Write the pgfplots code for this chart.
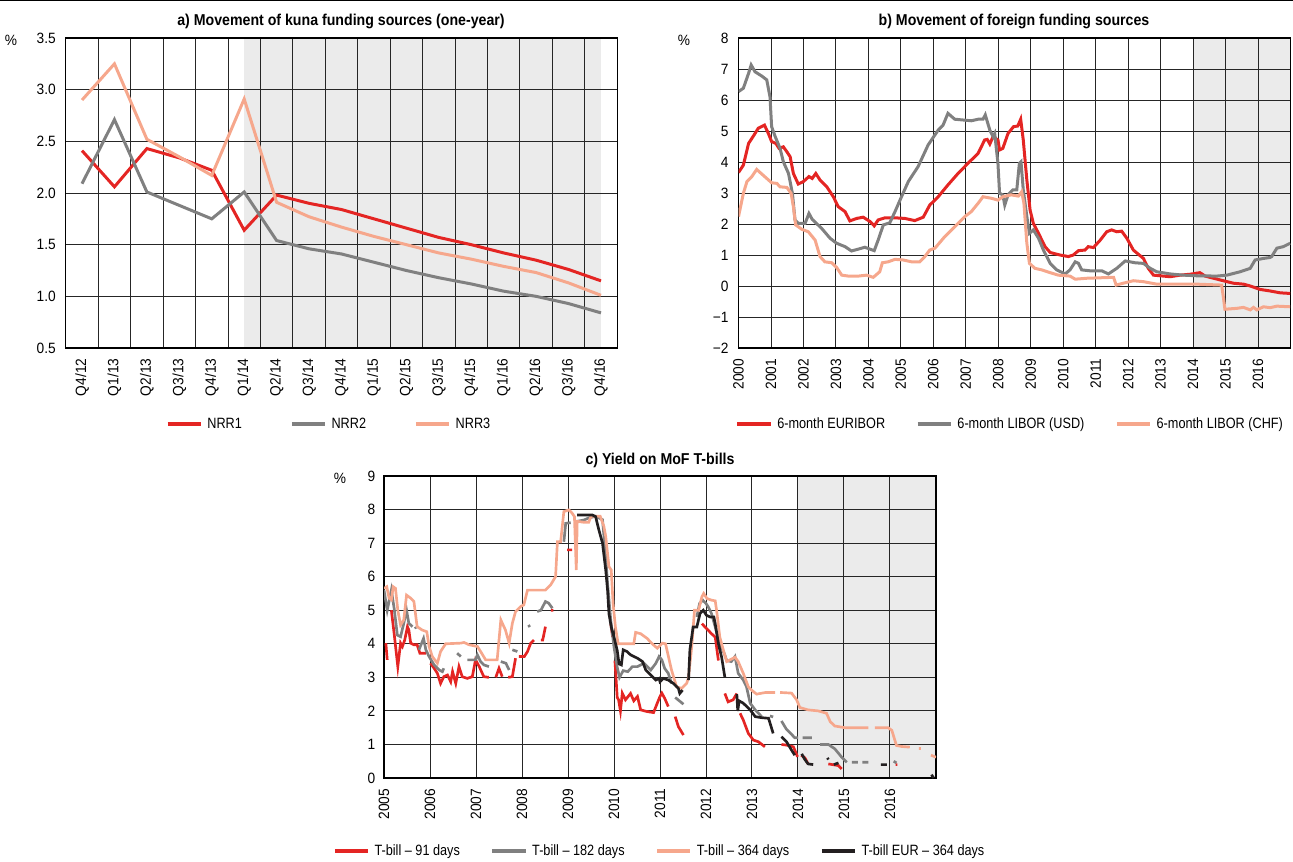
\documentclass[border=0pt]{standalone}
\usepackage{fontspec}
\setmainfont{Liberation Sans}[FakeStretch=0.85]
\newfontfamily\tickfam{Liberation Sans}[FakeStretch=0.92]
\newfontfamily\titlefam{Liberation Sans}[FakeStretch=0.9]
\usepackage{pgfplots}
\pgfplotsset{compat=1.18}

\definecolor{nred}{RGB}{228,37,35}
\definecolor{ngray}{RGB}{128,128,128}
\definecolor{nsalmon}{RGB}{246,167,140}
\definecolor{nblack}{RGB}{35,31,32}
\definecolor{nshade}{RGB}{235,235,235}

\newcommand\tfont{\fontsize{11.2}{13}\selectfont}
\newcommand\kfont{\tickfam\fontsize{11.2}{13}\selectfont}
\newcommand\hfont{\titlefam\fontsize{11.8}{14}\selectfont\bfseries}

% common look of the three panels
\pgfplotsset{
  hnb/.style={
    scale only axis, set layers, anchor=south west,
    axis line style={black, line width=0.8pt},
    major tick length=0pt, minor tick length=0pt,
    grid style={black!85, line width=0.7pt},
    tick label style={font=\kfont},
    yticklabel style={xshift=-4pt},
    xticklabel style={yshift=-4.5pt, rotate=90, anchor=east},
    legend style={draw=none, fill=none, font=\tfont, anchor=center,
      legend columns=-1, nodes={inner sep=2pt},
      /tikz/every odd column/.append style={column sep=1.5pt}},
    legend image code/.code={\draw[##1, line width=2.7pt] (0pt,0pt) -- (25pt,0pt);},
  },
}

\begin{document}
\begin{tikzpicture}

% ---------------- a) kuna funding sources
\begin{axis}[hnb, at={(49.35pt,-261pt)}, width=413.55pt, height=232.5pt,
  xmin=-0.5, xmax=16.5, ymin=0.5, ymax=3.5,
  xtick={0,...,16},
  xticklabels={Q4/12,Q1/13,Q2/13,Q3/13,Q4/13,Q1/14,Q2/14,Q3/14,Q4/14,Q1/15,Q2/15,Q3/15,Q4/15,Q1/16,Q2/16,Q3/16,Q4/16},
  minor xtick={0.5,1.5,...,15.5}, xminorgrids, ymajorgrids,
  ytick={0.5,1,1.5,2,2.5,3,3.5},
  yticklabels={0.5,1.0,1.5,2.0,2.5,3.0,3.5},
  legend style={at={(0.478,-0.245)}, /tikz/every even column/.append style={column sep=34pt}},
]
\addplot[fill=nshade, draw=none, forget plot, on layer=axis background]
  coordinates {(5,0.5) (5,3.5) (16,3.5) (16,0.5)};
\addplot[nred, line width=2.25pt] coordinates {
  (0,2.41) (1,2.06) (2,2.43) (3,2.34) (4,2.22) (5,1.64) (6,1.98) (7,1.90) (8,1.84)
  (9,1.75) (10,1.66) (11,1.57) (12,1.50) (13,1.42) (14,1.35) (15,1.26) (16,1.15)};
\addlegendentry{NRR1}
\addplot[ngray, line width=2.25pt] coordinates {
  (0,2.09) (1,2.71) (2,2.01) (3,1.88) (4,1.75) (5,2.01) (6,1.54) (7,1.46) (8,1.41)
  (9,1.33) (10,1.25) (11,1.18) (12,1.12) (13,1.05) (14,1.00) (15,0.93) (16,0.84)};
\addlegendentry{NRR2}
\addplot[nsalmon, line width=2.25pt] coordinates {
  (0,2.90) (1,3.25) (2,2.52) (3,2.35) (4,2.17) (5,2.91) (6,1.91) (7,1.77) (8,1.67)
  (9,1.58) (10,1.50) (11,1.42) (12,1.36) (13,1.29) (14,1.23) (15,1.13) (16,1.01)};
\addlegendentry{NRR3}
\end{axis}

% ---------------- b) foreign funding sources
\begin{axis}[hnb, at={(553.875pt,-261pt)}, width=414pt, height=232.5pt,
  xmin=2000, xmax=2017, ymin=-2, ymax=8,
  xtick={2000,...,2016},
  xticklabels={2000,2001,2002,2003,2004,2005,2006,2007,2008,2009,2010,2011,2012,2013,2014,2015,2016},
  ytick={-2,...,8},
  yticklabels={−2,−1,0,1,2,3,4,5,6,7,8},
  grid=major,
  legend style={at={(0.493,-0.245)}, /tikz/every even column/.append style={column sep=21pt}},
]
\addplot[fill=nshade, draw=none, forget plot, on layer=axis background]
  coordinates {(2014,-2) (2014,8) (2017,8) (2017,-2)};
\addplot[nred, line width=2.25pt] coordinates {
  (2000.00,3.66) (2000.15,3.90) (2000.31,4.60) (2000.46,4.84) (2000.61,5.09) (2000.80,5.19)
  (2000.92,4.92) (2001.02,4.66) (2001.15,4.60) (2001.25,4.44) (2001.38,4.49) (2001.49,4.33)
  (2001.59,4.17) (2001.69,3.63) (2001.84,3.29) (2002.00,3.37) (2002.17,3.53) (2002.27,3.47)
  (2002.38,3.63) (2002.51,3.42) (2002.72,3.20) (2002.92,2.88) (2003.07,2.56) (2003.28,2.40)
  (2003.43,2.10) (2003.64,2.18) (2003.84,2.22) (2004.05,2.08) (2004.18,1.94) (2004.30,2.13)
  (2004.51,2.20) (2004.82,2.20) (2005.12,2.18) (2005.43,2.11) (2005.69,2.22) (2005.89,2.61)
  (2006.15,2.88) (2006.45,3.26) (2006.76,3.63) (2007.07,3.96) (2007.38,4.28) (2007.58,4.71)
  (2007.66,4.73) (2007.74,4.58) (2007.84,4.82) (2007.99,4.71) (2008.04,4.39) (2008.14,4.44)
  (2008.30,4.92) (2008.47,5.14) (2008.60,5.16) (2008.69,5.38) (2008.77,4.71) (2008.88,3.42)
  (2008.98,2.45) (2009.08,2.02) (2009.24,1.70) (2009.44,1.27) (2009.60,1.08) (2009.90,1.00)
  (2010.16,0.95) (2010.31,1.00) (2010.47,1.14) (2010.67,1.16) (2010.77,1.27) (2010.93,1.24)
  (2011.14,1.48) (2011.34,1.75) (2011.49,1.81) (2011.65,1.75) (2011.80,1.77) (2011.96,1.54)
  (2012.16,1.16) (2012.32,1.02) (2012.47,0.89) (2012.62,0.57) (2012.78,0.35) (2012.98,0.33)
  (2013.29,0.30) (2013.60,0.35) (2013.91,0.38) (2014.21,0.43) (2014.37,0.32) (2014.63,0.25)
  (2014.93,0.17) (2015.24,0.09) (2015.55,0.06) (2015.76,0.00) (2016.06,-0.11) (2016.37,-0.16)
  (2016.68,-0.22) (2016.99,-0.24)};
\addlegendentry{6-month EURIBOR}
\addplot[ngray, line width=2.25pt] coordinates {
  (2000.00,6.27) (2000.15,6.38) (2000.31,6.86) (2000.39,7.13) (2000.51,6.91) (2000.72,6.77)
  (2000.87,6.65) (2000.97,6.10) (2001.02,5.14) (2001.13,4.82) (2001.28,4.44) (2001.38,4.01)
  (2001.54,3.63) (2001.66,2.99) (2001.74,2.13) (2001.84,2.02) (2002.05,2.02) (2002.17,2.34)
  (2002.27,2.15) (2002.56,1.86) (2002.82,1.54) (2003.02,1.38) (2003.28,1.27) (2003.48,1.13)
  (2003.69,1.19) (2003.89,1.25) (2004.18,1.14) (2004.30,1.48) (2004.46,1.97) (2004.66,2.04)
  (2004.82,2.40) (2005.02,2.88) (2005.23,3.37) (2005.53,3.85) (2005.84,4.55) (2006.15,5.03)
  (2006.30,5.19) (2006.45,5.57) (2006.66,5.38) (2006.97,5.35) (2007.17,5.33) (2007.38,5.38)
  (2007.53,5.38) (2007.60,5.52) (2007.74,5.03) (2007.84,4.82) (2007.89,4.92) (2007.99,3.96)
  (2008.04,2.99) (2008.14,2.94) (2008.20,2.61) (2008.30,2.94) (2008.45,3.10) (2008.57,3.10)
  (2008.65,3.96) (2008.70,4.01) (2008.77,3.10) (2008.88,2.24) (2008.96,1.70) (2009.08,1.81)
  (2009.24,1.54) (2009.39,1.16) (2009.60,0.73) (2009.80,0.52) (2010.06,0.39) (2010.21,0.52)
  (2010.37,0.78) (2010.47,0.73) (2010.57,0.52) (2010.83,0.49) (2011.19,0.49) (2011.39,0.39)
  (2011.65,0.57) (2011.91,0.81) (2012.21,0.75) (2012.47,0.73) (2012.68,0.57) (2012.88,0.46)
  (2013.29,0.39) (2013.70,0.35) (2014.11,0.33) (2014.73,0.32) (2015.04,0.35) (2015.45,0.46)
  (2015.76,0.57) (2015.91,0.84) (2016.17,0.89) (2016.37,0.92) (2016.42,0.95) (2016.58,1.22)
  (2016.78,1.27) (2016.99,1.38)};
\addlegendentry{6-month LIBOR (USD)}
\addplot[nsalmon, line width=2.25pt] coordinates {
  (2000.00,2.24) (2000.15,2.99) (2000.26,3.37) (2000.41,3.53) (2000.56,3.76) (2000.72,3.61)
  (2000.87,3.47) (2001.02,3.33) (2001.18,3.31) (2001.28,3.20) (2001.49,3.18) (2001.62,2.99)
  (2001.69,2.56) (2001.76,1.97) (2001.95,1.83) (2002.15,1.75) (2002.36,1.48) (2002.51,0.95)
  (2002.66,0.78) (2002.87,0.75) (2003.02,0.60) (2003.18,0.35) (2003.38,0.32) (2003.69,0.32)
  (2003.94,0.35) (2004.15,0.28) (2004.35,0.46) (2004.43,0.75) (2004.61,0.78) (2004.82,0.86)
  (2005.07,0.84) (2005.33,0.78) (2005.58,0.78) (2005.74,0.95) (2005.89,1.16) (2006.05,1.22)
  (2006.35,1.59) (2006.66,1.91) (2006.97,2.24) (2007.17,2.40) (2007.38,2.67) (2007.53,2.88)
  (2007.79,2.83) (2007.99,2.77) (2008.14,2.88) (2008.40,2.94) (2008.62,2.90) (2008.72,3.04)
  (2008.79,2.67) (2008.88,1.38) (2008.96,0.73) (2009.13,0.57) (2009.34,0.52) (2009.60,0.43)
  (2009.85,0.35) (2010.21,0.32) (2010.37,0.22) (2010.72,0.25) (2011.55,0.28) (2011.63,0.03)
  (2011.85,0.09) (2012.16,0.17) (2012.47,0.14) (2012.88,0.06) (2013.50,0.06) (2014.11,0.06)
  (2014.88,0.03) (2014.93,-0.34) (2014.98,-0.75) (2015.35,-0.72) (2015.55,-0.69) (2015.76,-0.77)
  (2015.86,-0.69) (2015.96,-0.77) (2016.17,-0.67) (2016.37,-0.70) (2016.58,-0.65) (2016.99,-0.67)};
\addlegendentry{6-month LIBOR (CHF)}
\end{axis}

% ---------------- c) MoF T-bills
\begin{axis}[hnb, at={(288pt,-583.5pt)}, width=414pt, height=226.5pt,
  xmin=2005, xmax=2017, ymin=0, ymax=9,
  xtick={2005,...,2016},
  xticklabels={2005,2006,2007,2008,2009,2010,2011,2012,2013,2014,2015,2016},
  ytick={0,...,9},
  yticklabels={0,1,2,3,4,5,6,7,8,9},
  yticklabel style={xshift=1pt},
  grid=major, unbounded coords=jump,
  legend style={at={(0.5,-0.242)}, /tikz/every even column/.append style={column sep=21pt}},
]
\addplot[fill=nshade, draw=none, forget plot, on layer=axis background]
  coordinates {(2014,0) (2014,9) (2017,9) (2017,0)};
\addplot[nred, line width=2pt] coordinates {
  (2005.04,4.02) (2005.07,3.52) (2005.1,nan)
  (2005.16,5.00) (2005.22,4.31) (2005.30,3.32) (2005.36,4.02) (2005.40,3.92) (2005.45,4.11)
  (2005.51,4.51) (2005.54,4.41) (2005.58,4.02) (2005.65,3.97) (2005.72,3.97) (2005.78,3.72)
  (2005.91,3.72) (2005.95,nan)
  (2006.01,3.42) (2006.09,3.27) (2006.16,3.12) (2006.23,2.82) (2006.30,3.02) (2006.38,3.07)
  (2006.45,2.87) (2006.49,3.17) (2006.56,2.82) (2006.63,3.32) (2006.70,3.02) (2006.81,2.97)
  (2006.92,3.02) (2006.99,3.52) (2007.07,3.32) (2007.17,3.02) (2007.28,3.00) (2007.35,nan)
  (2007.43,3.00) (2007.50,3.27) (2007.57,3.02) (2007.63,nan)
  (2007.70,3.00) (2007.79,3.02) (2007.86,3.57) (2007.9,nan)
  (2007.93,3.62) (2008.05,3.62) (2008.12,3.77) (2008.19,4.02) (2008.26,4.11) (2008.33,nan)
  (2008.41,4.11) (2008.45,4.11) (2008.51,4.51) (2008.57,nan)
  (2008.63,5.00) (2008.68,5.00) (2008.8,nan)
  (2008.98,6.80) (2009.09,6.80) (2009.5,nan)
  (2009.93,4.60) (2009.97,4.20) (2010.0,nan)
  (2010.02,3.50) (2010.07,2.40) (2010.10,2.33) (2010.14,2.00) (2010.18,2.53) (2010.25,2.33)
  (2010.36,2.52) (2010.43,2.30) (2010.51,2.43) (2010.58,2.03) (2010.72,1.98) (2010.86,1.95)
  (2010.94,2.23) (2011.00,2.43) (2011.04,2.53) (2011.10,2.38) (2011.18,2.13) (2011.25,nan)
  (2011.33,1.83) (2011.40,1.53) (2011.51,1.28) (2011.7,nan)
  (2011.91,4.60) (2011.98,4.50) (2012.05,4.40) (2012.12,4.30) (2012.20,4.20) (2012.23,3.90)
  (2012.27,3.50) (2012.33,nan)
  (2012.41,2.52) (2012.48,2.27) (2012.59,2.33) (2012.67,2.52) (2012.70,nan)
  (2012.74,1.93) (2012.81,1.73) (2012.92,1.33) (2013.03,1.13) (2013.14,1.08) (2013.28,0.93)
  (2013.4,nan)
  (2013.64,1.00) (2013.75,0.98) (2013.90,0.93) (2013.99,0.63) (2014.03,nan)
  (2014.07,0.68) (2014.15,0.60) (2014.22,0.42) (2014.4,nan)
  (2014.66,0.42) (2014.88,0.37) (2014.95,0.27) (2015.2,nan)
  (2016.12,0.40) (2016.16,0.40)};
\addlegendentry{T-bill – 91 days}
\addplot[ngray, line width=2pt] coordinates {
  (2005.00,5.60) (2005.07,5.00) (2005.11,5.26) (2005.16,5.60) (2005.22,5.06) (2005.29,4.26)
  (2005.36,4.21) (2005.43,4.61) (2005.49,5.00) (2005.54,4.61) (2005.62,4.51) (2005.65,nan)
  (2005.68,4.51) (2005.70,4.45) (2005.73,nan)
  (2005.76,3.82) (2005.86,4.16) (2005.91,3.82) (2005.98,3.62) (2006.09,3.37) (2006.20,3.22)
  (2006.27,3.17) (2006.30,3.27) (2006.4,nan)
  (2006.59,3.72) (2006.67,3.62) (2006.75,nan)
  (2006.81,3.52) (2006.99,3.52) (2007.03,3.67) (2007.10,3.47) (2007.17,3.37) (2007.28,3.32)
  (2007.4,nan)
  (2007.54,3.47) (2007.65,3.42) (2007.72,3.22) (2007.75,nan)
  (2007.79,3.82) (2007.90,3.77) (2008.0,nan)
  (2008.14,4.56) (2008.17,4.50) (2008.25,nan)
  (2008.33,4.96) (2008.41,5.00) (2008.51,5.26) (2008.58,5.21) (2008.66,5.06) (2008.8,nan)
  (2008.91,7.04) (2008.95,7.59) (2009.06,7.61) (2009.1,nan)
  (2009.17,7.64) (2009.35,7.69) (2009.45,7.75) (2009.60,7.80) (2009.75,7.70) (2009.82,6.60)
  (2009.86,5.80) (2009.93,4.70) (2010.00,3.90) (2010.07,3.30) (2010.12,3.00) (2010.20,3.20)
  (2010.30,3.17) (2010.40,3.32) (2010.51,3.32) (2010.65,3.42) (2010.80,3.22) (2010.91,3.42)
  (2010.98,3.62) (2011.04,3.52) (2011.10,3.27) (2011.18,3.12) (2011.25,2.82) (2011.29,nan)
  (2011.33,2.40) (2011.51,2.20) (2011.6,nan)
  (2011.80,4.80) (2011.86,5.20) (2011.93,5.30) (2012.00,5.20) (2012.05,5.10) (2012.12,4.90)
  (2012.20,4.50) (2012.30,4.00) (2012.40,3.70) (2012.45,3.50) (2012.55,3.47) (2012.63,3.62)
  (2012.70,3.12) (2012.81,2.92) (2012.88,2.72) (2012.96,2.23) (2013.07,2.03) (2013.21,1.83)
  (2013.3,nan)
  (2013.39,1.85) (2013.46,1.82) (2013.55,nan)
  (2013.64,1.70) (2013.75,1.45) (2013.86,1.30) (2013.93,1.20) (2014.00,1.20) (2014.05,nan)
  (2014.10,1.20) (2014.30,1.20) (2014.4,nan)
  (2014.48,1.00) (2014.66,1.00) (2014.80,0.87) (2014.95,0.62) (2015.06,0.47) (2015.12,nan)
  (2015.17,0.47) (2015.30,0.47) (2015.35,nan)
  (2015.40,0.47) (2015.53,0.47) (2015.7,nan)
  (2016.08,0.50) (2016.14,0.45)};
\addlegendentry{T-bill – 182 days}
\addplot[nsalmon, line width=2pt] coordinates {
  (2005.00,5.65) (2005.06,5.70) (2005.11,5.36) (2005.16,5.31) (2005.20,5.70) (2005.25,5.65)
  (2005.30,5.00) (2005.36,4.56) (2005.43,4.71) (2005.49,5.45) (2005.58,5.36) (2005.65,5.26)
  (2005.72,4.51) (2005.83,4.41) (2005.93,4.36) (2005.98,3.92) (2006.05,3.62) (2006.16,3.42)
  (2006.23,3.77) (2006.34,4.00) (2006.67,4.02) (2006.74,4.04) (2006.85,3.97) (2007.03,3.92)
  (2007.10,3.77) (2007.21,3.52) (2007.46,3.52) (2007.54,4.71) (2007.64,4.41) (2007.72,4.02)
  (2007.79,4.61) (2007.86,4.96) (2007.97,5.11) (2008.04,5.16) (2008.12,5.60) (2008.51,5.60)
  (2008.62,5.75) (2008.73,6.00) (2008.77,7.04) (2008.84,7.04) (2008.91,7.94) (2009.02,7.99)
  (2009.09,7.89) (2009.14,7.79) (2009.18,6.20) (2009.20,7.65) (2009.35,7.62) (2009.45,7.62)
  (2009.50,7.80) (2009.70,7.80) (2009.78,7.50) (2009.82,7.20) (2009.89,6.30) (2009.94,6.20)
  (2009.98,5.20) (2010.03,4.51) (2010.09,4.00) (2010.20,4.00) (2010.43,4.00) (2010.47,4.34)
  (2010.58,4.30) (2010.72,4.16) (2010.83,4.00) (2010.94,3.87) (2011.05,4.02) (2011.12,4.00)
  (2011.25,3.22) (2011.36,2.72) (2011.47,2.67) (2011.58,2.82) (2011.62,3.00) (2011.69,3.92)
  (2011.75,5.00) (2011.84,5.00) (2011.91,5.40) (2011.95,5.50) (2012.02,5.35) (2012.12,5.30)
  (2012.20,5.28) (2012.23,5.00) (2012.30,4.20) (2012.38,3.80) (2012.45,3.47) (2012.52,3.52)
  (2012.63,3.60) (2012.70,3.47) (2012.81,3.12) (2012.92,2.72) (2012.99,2.62) (2013.10,2.50)
  (2013.30,2.55) (2013.50,2.55) (2013.55,nan)
  (2013.61,2.55) (2013.86,2.53) (2013.97,2.33) (2014.04,2.10) (2014.22,2.03) (2014.44,2.00)
  (2014.62,1.93) (2014.70,1.68) (2014.80,1.55) (2015.02,1.50) (2015.53,1.50) (2015.6,nan)
  (2015.67,1.50) (2015.96,1.50) (2016.04,1.42) (2016.14,0.97) (2016.25,0.94) (2016.43,0.92)
  (2016.5,nan)
  (2016.63,0.88) (2016.67,0.88) (2016.75,nan)
  (2016.89,0.68) (2017.00,0.62)};
\addlegendentry{T-bill – 364 days}
\addplot[nblack, line width=2pt] coordinates {
  (2009.20,7.84) (2009.53,7.84) (2009.60,7.79) (2009.67,7.40) (2009.75,7.00) (2009.82,6.20)
  (2009.86,5.60) (2009.89,4.90) (2009.94,4.50) (2010.00,4.20) (2010.07,3.80) (2010.11,3.40)
  (2010.16,3.37) (2010.20,3.82) (2010.28,3.77) (2010.36,3.67) (2010.51,3.57) (2010.62,3.47)
  (2010.69,3.22) (2010.80,3.07) (2010.91,2.92) (2010.98,2.97) (2011.00,2.87) (2011.07,2.97)
  (2011.18,2.92) (2011.29,2.82) (2011.40,2.67) (2011.43,2.52) (2011.49,2.62) (2011.55,nan)
  (2011.62,2.92) (2011.65,3.82) (2011.72,4.50) (2011.80,4.50) (2011.87,4.90) (2011.94,5.00)
  (2012.01,4.85) (2012.09,4.80) (2012.17,4.80) (2012.20,4.60) (2012.27,4.00) (2012.34,3.60)
  (2012.41,3.00) (2012.5,nan)
  (2012.67,2.50) (2012.69,2.00) (2012.72,2.30) (2012.81,2.23) (2012.96,2.03) (2013.07,1.83)
  (2013.20,1.80) (2013.36,1.78) (2013.46,1.33) (2013.55,nan)
  (2013.64,1.23) (2013.75,1.08) (2013.86,0.83) (2013.93,0.68) (2014.0,nan)
  (2014.08,0.72) (2014.15,0.55) (2014.22,0.42) (2014.33,0.40) (2014.5,nan)
  (2014.64,0.60) (2014.66,0.55) (2014.7,nan)
  (2014.78,0.40) (2014.88,0.45) (2015.2,nan)
  (2015.80,0.40) (2015.93,0.40) (2016.2,nan)
  (2016.90,0.10) (2016.95,0.00)};
\addlegendentry{T-bill EUR – 364 days}
\end{axis}

% titles, unit signs and the rule at the top (pixel grid of the reference)
\begin{scope}[x=0.75pt,y=-0.75pt]
\draw[line width=0.9pt] (0,0.6) -- (1293,0.6);
\node[font=\hfont] at (341,21) {a) Movement of kuna funding sources (one-year)};
\node[font=\hfont] at (1014,21) {b) Movement of foreign funding sources};
\node[font=\hfont] at (660,460) {c) Yield on MoF T-bills};
\node[font=\kfont] at (11,40) {\%};
\node[font=\kfont] at (684,40) {\%};
\node[font=\kfont] at (340,478) {\%};
\end{scope}
\pgfresetboundingbox
\path[use as bounding box] (0pt,0pt) rectangle (969.75pt,-645.75pt);
\end{tikzpicture}
\end{document}
